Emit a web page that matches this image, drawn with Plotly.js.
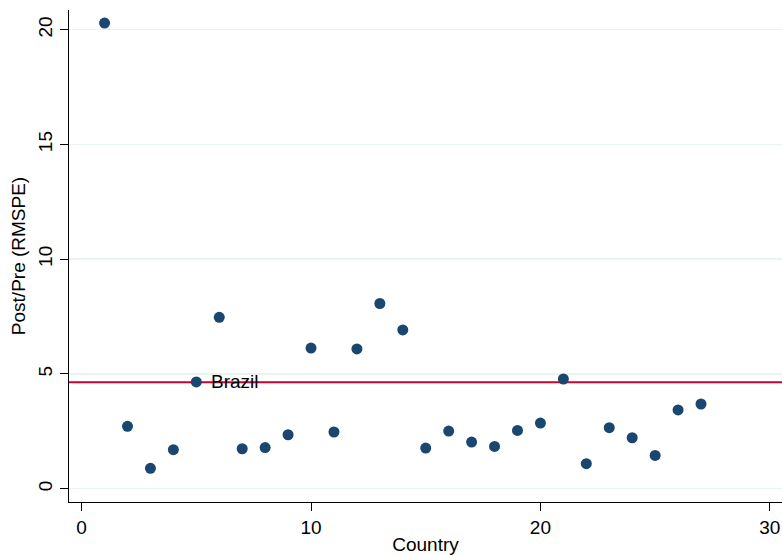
<!DOCTYPE html>
<html>
<head>
<meta charset="utf-8">
<script src="https://cdn.plot.ly/plotly-3.0.1.min.js"></script>
<style>html,body{margin:0;padding:0;background:#fff;}#chart{width:782px;height:555px;}</style>
</head>
<body>
<div id="chart"></div>
<script>
const countries = [1,2,3,4,5,6,7,8,9,10,11,12,13,14,15,16,17,18,19,20,21,22,23,24,25,26,27];
const ratio = [20.29,2.72,0.89,1.70,4.65,7.47,1.74,1.79,2.35,6.13,2.47,6.09,8.07,6.92,1.77,2.51,2.03,1.84,2.54,2.86,4.78,1.09,2.66,2.22,1.45,3.43,3.69];
const labels = ["","","","","Brazil","","","","","","","","","","","","","","","","","","","","","",""];
const treatedRatio = 4.64;
const xTicks = [0,10,20,30];
const yTicks = [0,5,10,15,20];

const font = "Liberation Sans, Arial, Helvetica, sans-serif";
const traces = [{
  x: countries, y: ratio,
  type: 'scatter', mode: 'markers',
  marker: {color: '#1a476f', size: 11},
  hoverinfo: 'x+y', showlegend: false, cliponaxis: false
}];
const annotations = [];
labels.forEach((t, i) => {
  if (t) annotations.push({
    x: countries[i], y: ratio[i], xref: 'x', yref: 'y', text: t,
    showarrow: false, xanchor: 'left', yanchor: 'middle', xshift: 13, yshift: 0,
    font: {family: font, size: 19, color: '#000'}
  });
});
const layout = {
  width: 782, height: 555,
  margin: {l: 69, r: 0, t: 10, b: 53},
  paper_bgcolor: '#fff', plot_bgcolor: '#fff',
  font: {family: font, size: 19, color: '#000'},
  xaxis: {
    range: [-0.55, 30.53], tickvals: xTicks, ticktext: xTicks.map(String),
    showgrid: false, zeroline: false, showline: true, linecolor: '#000', linewidth: 1,
    ticks: 'outside', ticklen: 8, tickcolor: '#000', tickfont: {size: 19},
    title: {text: 'Country', font: {family: font, size: 19}, standoff: 2}
  },
  yaxis: {
    range: [-0.58, 20.86], tickvals: yTicks, ticktext: yTicks.map(String),
    tickangle: -90, tickfont: {size: 19},
    showgrid: true, gridcolor: '#eaf2f3', gridwidth: 1.5, zeroline: false,
    showline: true, linecolor: '#000', linewidth: 1,
    ticks: 'outside', ticklen: 8, tickcolor: '#000',
    title: {text: 'Post/Pre (RMSPE)', font: {family: font, size: 19}, standoff: 4}
  },
  annotations: annotations,
  shapes: [{
    type: 'line', xref: 'paper', x0: 0, x1: 1, yref: 'y', y0: treatedRatio, y1: treatedRatio,
    line: {color: '#c10534', width: 2}, layer: 'below'
  }]
};
Plotly.newPlot('chart', traces, layout, {displayModeBar: false, staticPlot: true});
</script>
</body>
</html>
